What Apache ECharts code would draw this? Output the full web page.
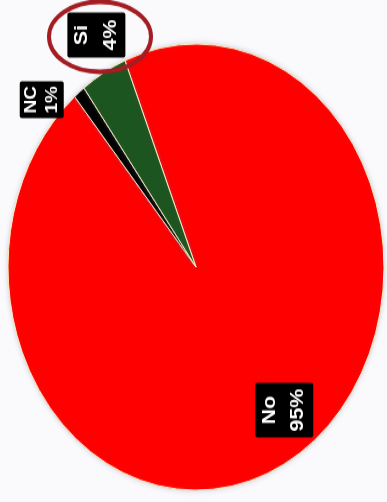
<!DOCTYPE html>
<html>
<head>
<meta charset="utf-8">
<script src="https://cdn.jsdelivr.net/npm/echarts@6/dist/echarts.min.js"></script>
<style>
html,body{margin:0;padding:0;background:#fafafc;overflow:hidden;}
#wrap{width:387px;height:502px;overflow:hidden;position:relative;}
#chart{width:387px;height:423px;transform:scaleY(1.187);transform-origin:0 0;}
</style>
</head>
<body>
<div id="wrap"><div id="chart"></div></div>
<script>
const categories = ['No', 'NC', 'Si'];
const values = [95, 1, 4];
const colors = ['#ff0000', '#000000', '#1d5520'];

const labelStyles = {
  No: { fontSize: 18, lineHeight: 28, padding: [1, 5] },
  NC: { fontSize: 16, lineHeight: 21, padding: [1, 4] },
  Si: { fontSize: 18, lineHeight: 29, padding: [0, 6] }
};
// screen offsets [right, down] from the default inside position
const labelShift = {
  No: [38, 37.5],
  NC: [-94, -65],
  Si: [-52, -111]
};

const chart = echarts.init(document.getElementById('chart'), null, { renderer: 'canvas' });
chart.setOption({
  backgroundColor: '#fafafc',
  animation: false,
  series: [{
    type: 'pie',
    center: [196, 225],
    radius: 188,
    startAngle: 112.2,
    clockwise: true,
    avoidLabelOverlap: false,
    itemStyle: {
      borderColor: '#fff2b8',
      borderWidth: 1,
      shadowBlur: 4,
      shadowColor: 'rgba(120,120,180,0.3)'
    },
    label: {
      show: true,
      position: 'inside',
      rotate: 90,
      formatter: p => p.name + '\n' + p.value + '%',
      color: '#ffffff',
      fontWeight: 'bold',
      fontFamily: 'Liberation Sans, Arial, sans-serif',
      backgroundColor: '#000000',
      borderRadius: 2
    },
    labelLine: { show: false },
    labelLayout: function (params) {
      const s = labelShift[categories[params.dataIndex]];
      // label is rotated 90deg, so its local offsets map to screen as (dy, -dx)
      return { dx: -s[1], dy: s[0] };
    },
    data: categories.map((c, i) => ({
      name: c,
      value: values[i],
      itemStyle: { color: colors[i] },
      label: Object.assign({}, labelStyles[c])
    }))
  }],
  graphic: [{
    type: 'ellipse',
    shape: { cx: 100, cy: 31, rx: 51, ry: 29.5 },
    style: { fill: 'none', stroke: '#a31d22', lineWidth: 4 },
    z: 100
  }]
});
</script>
</body>
</html>
